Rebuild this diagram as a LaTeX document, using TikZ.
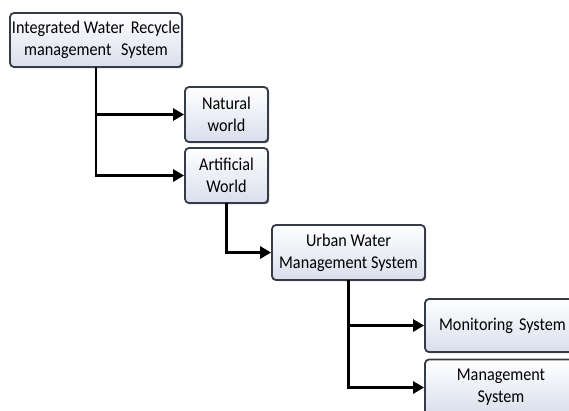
\documentclass[tikz,border=0pt]{standalone}
\usepackage{fontspec}
\setmainfont[FakeStretch=0.9]{Carlito}
\usetikzlibrary{arrows.meta,shadows}
\definecolor{boxedge}{HTML}{363B48}
\definecolor{boxlow}{HTML}{D8DEEC}
\tikzset{
  box/.style={draw=boxedge, line width=1.8pt, rounded corners=4pt,
    top color=white, bottom color=boxlow, align=center, inner sep=1pt,
    font=\fontsize{18}{22}\selectfont,
    drop shadow={shadow xshift=1.2pt, shadow yshift=-1.2pt, opacity=0.55, fill=black}},
  conn/.style={line width=2.8pt, -{Triangle[length=11pt,width=12pt]}, line cap=rect}
}
\begin{document}
\begin{tikzpicture}[x=1pt,y=1pt]
\useasboundingbox (0,0) rectangle (569,-410);
\begin{scope}
\clip (0,0) rectangle (569,-410);
\node[box, minimum width=172pt, minimum height=54pt] (top) at (96,-40) {Integrated Water\, Recycle\\management\,\, System};
\node[box, minimum width=83pt, minimum height=55pt] (nat) at (226.5,-114.5) {Natural\\world};
\node[box, minimum width=83pt, minimum height=55pt] (art) at (226.5,-175.5) {Artificial\\World};
\node[box, minimum width=153pt, minimum height=55pt] (urb) at (348.5,-252.5) {Urban Water\\Management System};
\node[box, minimum width=152pt, minimum height=53pt, text width=146pt] (mon) at (501,-325.5) {\hspace*{3pt}Monitoring System};
\node[box, minimum width=152pt, minimum height=56pt, text width=146pt] (mgt) at (501,-387.5) {Management\\System\\[-4pt]};
\end{scope}
\draw[conn] (top.south) |- (nat.west);
\draw[conn] (top.south) |- (art.west);
\draw[conn] (art.south) |- (urb.west);
\draw[conn] (urb.south) |- (mon.west);
\draw[conn] (urb.south) |- (mgt.west);
\end{tikzpicture}
\end{document}
